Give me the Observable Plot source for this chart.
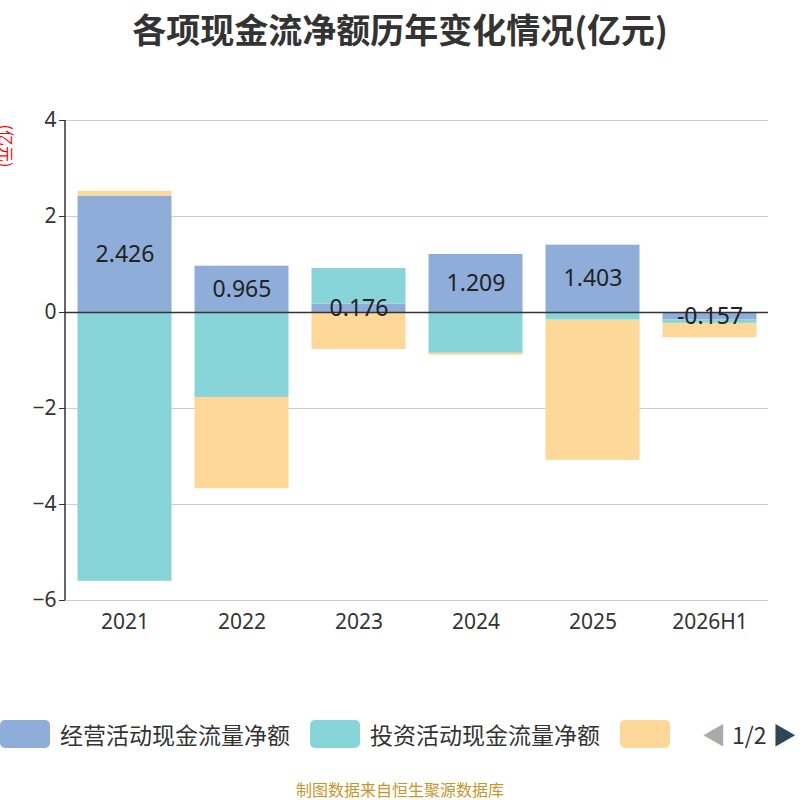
<!DOCTYPE html>
<html><head><meta charset="utf-8">
<script src="https://cdn.jsdelivr.net/npm/d3@7"></script>
<script src="https://cdn.jsdelivr.net/npm/@observablehq/plot@0.6"></script>
<style>
body{margin:0;width:800px;height:800px;position:relative;font-family:"Noto Sans CJK SC","Noto Sans",sans-serif;background:#fff;overflow:hidden}
#title{position:absolute;top:4px;left:0;width:800px;text-align:center;font-size:34px;font-weight:bold;color:#333}
#chart{position:absolute;top:0;left:0}
#ylab{position:absolute;left:-14px;top:134px;transform:rotate(90deg);color:red;font-size:16px}
#legend{position:absolute;top:716px;left:0;font-size:23px;color:#333;display:flex;align-items:center;white-space:nowrap}
.sw{display:inline-block;width:50px;height:28px;border-radius:5px;margin-right:10px}
#foot{position:absolute;top:777px;width:800px;text-align:center;color:#c8962c;font-size:16px}
</style></head><body>
<div id="chart"></div>
<div id="title">各项现金流净额历年变化情况(亿元)</div>
<div id="ylab">(亿元)</div>
<div id="legend">
<span class="sw" style="background:#8eadd9"></span><span style="margin-right:20px">经营活动现金流量净额</span>
<span class="sw" style="background:#87d5d8"></span><span style="margin-right:20px">投资活动现金流量净额</span>
<span class="sw" style="background:#fed898"></span>
<span style="margin-left:22px;color:#aaa;font-size:24px">◀</span><span style="margin:0 6px">1/2</span><span style="color:#2f4554;font-size:24px">▶</span>
</div>
<div id="foot">制图数据来自恒生聚源数据库</div>
<script>
const years = ["2021","2022","2023","2024","2025","2026H1"];
const operating = [2.426, 0.965, 0.176, 1.209, 1.403, -0.157];
const investing = [-5.6, -1.77, 0.74, -0.85, -0.16, -0.07];
const financing = [0.1, -1.9, -0.77, -0.04, -2.92, -0.3];
const seriesNames = ["经营活动现金流量净额","投资活动现金流量净额","筹资活动现金流量净额"];
const colors = ["#8eadd9","#87d5d8","#fed898"];
const data = [];
years.forEach((y,i)=>{
  data.push({year:y, s:seriesNames[0], v:operating[i]});
  data.push({year:y, s:seriesNames[1], v:investing[i]});
  data.push({year:y, s:seriesNames[2], v:financing[i]});
});
const labels = years.map((y,i)=>({year:y, v:operating[i], pos:operating[i]/2}));
const chart = Plot.plot({
  width:800, height:660, marginTop:120, marginBottom:60, marginLeft:65, marginRight:32,
  style:{fontFamily:"'Noto Sans',sans-serif", fontSize:"21px", color:"#333"},
  x:{domain:years, padding:0, label:null, tickSize:0, tickPadding:14},
  y:{domain:[-6,4], label:null},
  color:{domain:seriesNames, range:colors},
  marks:[
    Plot.ruleY([-6,-4,-2,2,4], {stroke:"#ccc"}),
    Plot.barY(data, Plot.stackY({x:"year", y:"v", fill:"s", order:seriesNames, insetLeft:11.5, insetRight:11.5})),
    Plot.ruleY([0], {stroke:"#333", strokeWidth:1.5}),
    Plot.text(labels, {x:"year", y:"pos", text:d=>d.v.toFixed(3), fontSize:23, fill:"#222"}),
    Plot.axisY({ticks:[-6,-4,-2,0,2,4], tickSize:6, fontSize:21, label:null})
  ]
});
document.getElementById("chart").appendChild(chart);
const svg = d3.select(chart);
svg.append("line").attr("x1",65).attr("x2",65).attr("y1",120).attr("y2",600).attr("stroke","#333").attr("stroke-width",1.5);
</script>
</body></html>
